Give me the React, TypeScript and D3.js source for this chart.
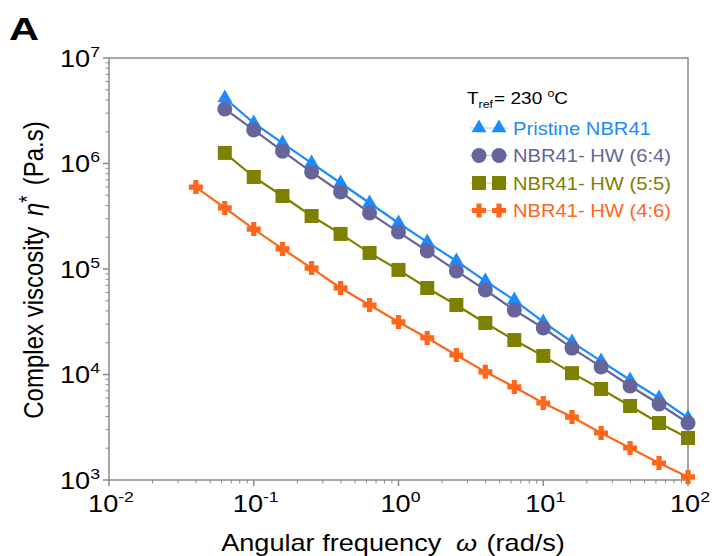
import React from "react";
import * as d3 from "d3";

const freqAll = [0.0398, 0.0631, 0.1, 0.158, 0.251, 0.398, 0.631, 1, 1.58, 2.51, 3.98, 6.31, 10, 15.8, 25.1, 39.8, 63.1, 100];
const freq = freqAll.slice(1);

const pristine = [4.18e6, 2.42e6, 1.56e6, 1.01e6, 6.53e5, 4.22e5, 2.73e5, 1.8e5, 1.19e5, 7.69e4, 5.08e4, 3.15e4, 2.03e4, 1.34e4, 8.87e3, 5.99e3, 3.87e3];
const hw64 = [3.29e6, 2.08e6, 1.31e6, 8.3e5, 5.37e5, 3.4e5, 2.24e5, 1.48e5, 9.58e4, 6.32e4, 4.08e4, 2.76e4, 1.78e4, 1.18e4, 7.78e3, 5.25e3, 3.47e3];
const hw55 = [1.26e6, 7.45e5, 4.92e5, 3.18e5, 2.15e5, 1.42e5, 9.8e4, 6.61e4, 4.56e4, 3.08e4, 2.12e4, 1.5e4, 1.03e4, 7.29e3, 5.03e3, 3.47e3, 2.5e3];
const hw46 = [5.98e5, 3.79e5, 2.39e5, 1.55e5, 1.02e5, 6.61e4, 4.56e4, 3.15e4, 2.22e4, 1.53e4, 1.06e4, 7.62e3, 5.37e3, 3.95e3, 2.79e3, 2.01e3, 1.45e3, 1.07e3];

const xTicks = [-2, -1, 0, 1, 2];
const yTicks = [3, 4, 5, 6, 7];
const legendLabels = ["Pristine NBR41", "NBR41- HW (6:4)", "NBR41- HW (5:5)", "NBR41- HW (4:6)"];

const FONT = "'Liberation Sans', Arial, sans-serif";
const AXIS = "#8a8a8a";

type Shape = "triangle" | "circle" | "square" | "cross";

const series: { name: string; x: number[]; y: number[]; color: string; shape: Shape }[] = [
  { name: legendLabels[0], x: freq, y: pristine, color: "#1a8cff", shape: "triangle" },
  { name: legendLabels[1], x: freq, y: hw64, color: "#65659b", shape: "circle" },
  { name: legendLabels[2], x: freq, y: hw55, color: "#7f7f00", shape: "square" },
  { name: legendLabels[3], x: freqAll, y: hw46, color: "#ff6619", shape: "cross" },
];

function Marker({ shape, x, y, color }: { shape: Shape; x: number; y: number; color: string }) {
  if (shape === "circle") return <circle cx={x} cy={y} r={7.5} fill={color} />;
  if (shape === "square") return <rect x={x - 7} y={y - 7} width={14} height={14} fill={color} />;
  if (shape === "triangle") {
    const p = d3.symbol().type(d3.symbolTriangle).size(95)();
    return <path d={p || ""} transform={`translate(${x},${y})`} fill={color} />;
  }
  const a = 7, b = 2.6;
  const d = `M${-b},${-a}H${b}V${-b}H${a}V${b}H${b}V${a}H${-b}V${b}H${-a}V${-b}H${-b}Z`;
  return <path d={d} transform={`translate(${x},${y})`} fill={color} />;
}

function T({ x, y, children, anchor = "start", size = 24, fill = "#000", weight, rot, sx = 1.12 }: any) {
  return (
    <g transform={`translate(${x},${y}) scale(${sx},1)${rot ? ` rotate(${rot})` : ""}`}>
      <text x={0} y={0} fontSize={size} textAnchor={anchor} fill={fill} fontWeight={weight}>
        {children}
      </text>
    </g>
  );
}

export default function App() {
  const W = 714, H = 556;
  const x = d3.scaleLog().domain([0.01, 100]).range([109, 688]);
  const y = d3.scaleLog().domain([1e3, 1e7]).range([480, 58]);
  const [x0, x1] = x.range();
  const [y0, y1] = y.range();

  const line = d3.line<[number, number]>().x((d) => x(d[0])).y((d) => y(d[1]));

  const xMinor: number[] = [];
  const yMinor: number[] = [];
  for (let e = -2; e < 2; e++) for (let m = 2; m <= 9; m++) xMinor.push(m * Math.pow(10, e));
  for (let e = 3; e < 7; e++) for (let m = 2; m <= 9; m++) yMinor.push(m * Math.pow(10, e));

  return (
    <svg width={W} height={H} style={{ position: "absolute", left: 0, top: 0, background: "#fff" }} fontFamily={FONT}>
      <rect x={0} y={0} width={W} height={H} fill="#fff" />
      <T x={9} y={40} size={32} weight="bold" sx={1.3}>A</T>

      {/* frame */}
      <rect x={x0} y={y1} width={x1 - x0} height={y0 - y1} fill="none" stroke={AXIS} strokeWidth={1.5} />

      {/* y ticks */}
      {yTicks.map((e) => (
        <g key={"yt" + e}>
          <line x1={x0 - 6} x2={x0} y1={y(Math.pow(10, e))} y2={y(Math.pow(10, e))} stroke={AXIS} strokeWidth={1.5} />
          <T x={100} y={y(Math.pow(10, e)) + 8.5} size={23} anchor="end" sx={1.18}>
            10<tspan fontSize={15} dy={-10}>{e}</tspan>
          </T>
        </g>
      ))}
      {yMinor.map((v, i) => (
        <line key={"ym" + i} x1={x0 - 3.5} x2={x0} y1={y(v)} y2={y(v)} stroke={AXIS} strokeWidth={1} />
      ))}

      {/* x ticks */}
      {xTicks.map((e) => (
        <g key={"xt" + e}>
          <line x1={x(Math.pow(10, e))} x2={x(Math.pow(10, e))} y1={y0} y2={y0 + 6} stroke={AXIS} strokeWidth={1.5} />
          <T x={x(Math.pow(10, e)) + 2} y={512} size={23} anchor="middle" sx={1.18}>
            10<tspan fontSize={15} dy={-10}>{e}</tspan>
          </T>
        </g>
      ))}
      {xMinor.map((v, i) => (
        <line key={"xm" + i} x1={x(v)} x2={x(v)} y1={y0} y2={y0 + 3.5} stroke={AXIS} strokeWidth={1} />
      ))}

      {/* axis titles */}
      <T x={393} y={551} size={23} anchor="middle" sx={1.18}>
        Angular frequency <tspan fontStyle="italic" dx={6}>ω</tspan><tspan dx={8}>(rad/s)</tspan>
      </T>
      <T x={43} y={270} size={24} anchor="middle" rot={-90} sx={1.15}>
        Complex viscosity <tspan fontStyle="italic" dx={4}>η</tspan><tspan dy={-8} fontSize={19}>*</tspan>
        <tspan dy={8} dx={10}>(Pa.s)</tspan>
      </T>

      {/* series */}
      {series.map((s) => {
        const pts = s.x.map((f, i) => [f, s.y[i]] as [number, number]);
        return (
          <g key={s.name}>
            <path d={line(pts) || ""} fill="none" stroke={s.color} strokeWidth={2.2} />
            {pts.map((p, i) => (
              <Marker key={i} shape={s.shape} x={x(p[0])} y={y(p[1])} color={s.color} />
            ))}
          </g>
        );
      })}

      {/* legend */}
      <T x={467} y={104} size={17}>
        T<tspan fontSize={11} dy={4}>ref</tspan><tspan dy={-4} dx={1}>= 230 </tspan>
        <tspan fontSize={11} dy={-7}>o</tspan><tspan dy={7}>C</tspan>
      </T>
      {series.map((s, i) => {
        const cy = 128 + i * 27.5;
        return (
          <g key={"lg" + i}>
            <line x1={470} x2={508} y1={cy} y2={cy} stroke={s.color} strokeWidth={1} opacity={0.4} />
            <Marker shape={s.shape} x={479} y={cy} color={s.color} />
            <Marker shape={s.shape} x={499} y={cy} color={s.color} />
            <T x={513} y={cy + 6.5} size={18} fill={s.color}>{s.name}</T>
          </g>
        );
      })}
    </svg>
  );
}
